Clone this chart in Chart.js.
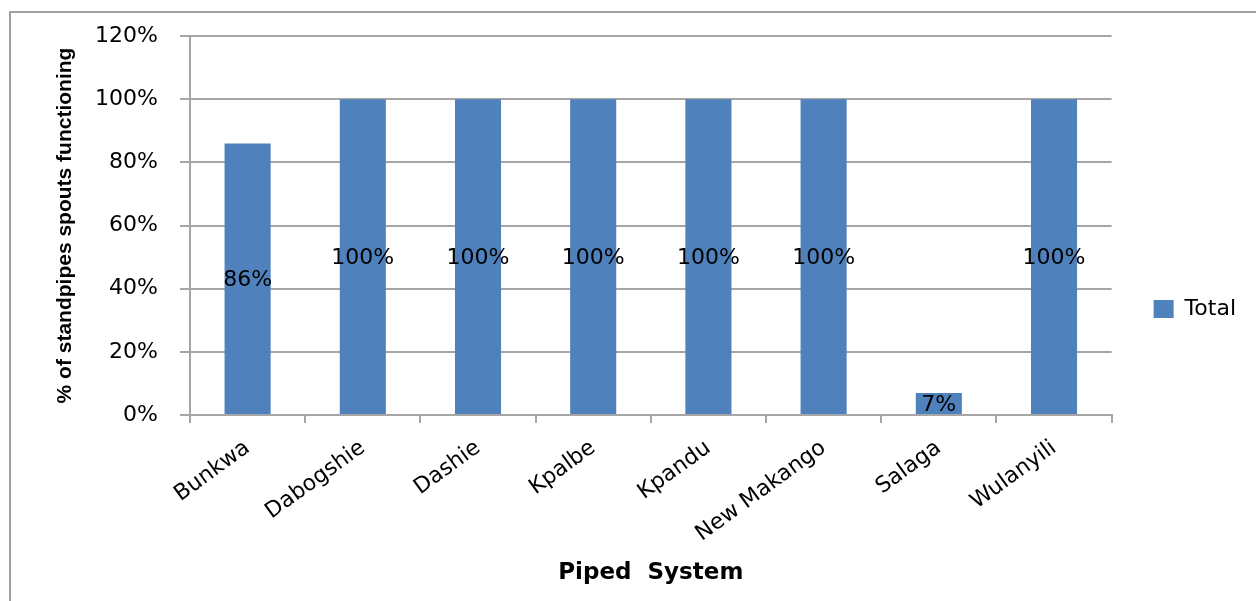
<!DOCTYPE html>
<html>
<head>
<meta charset="utf-8">
<title>Standpipe spouts functioning by piped system</title>
<script src="https://cdn.jsdelivr.net/npm/chart.js@4/dist/chart.umd.min.js"></script>
<style>
  html, body { margin: 0; padding: 0; background: #ffffff; }
  canvas { display: block; }
</style>
</head>
<body>
<canvas id="chart" width="1256" height="601"></canvas>
<script>
// Piped systems and the share of their standpipe spouts that work (%)
const systems = ['Bunkwa', 'Dabogshie', 'Dashie', 'Kpalbe', 'Kpandu', 'New Makango', 'Salaga', 'Wulanyili'];
const functioningPct = [86, 100, 100, 100, 100, 100, 7, 100];
const seriesName = 'Total';
const yTicks = [0, 20, 40, 60, 80, 100, 120];

const barBlue = '#4F81BD';
const lineGrey = '#a6a6a6';
const textFont = "'DejaVu Sans', sans-serif";

// Frame line along the left and top edges of the picture
const framePlugin = {
  id: 'frame',
  beforeDraw(chart) {
    const ctx = chart.ctx;
    ctx.save();
    ctx.fillStyle = '#ffffff';
    ctx.fillRect(0, 0, chart.width, chart.height);
    ctx.strokeStyle = '#a0a0a0';
    ctx.lineWidth = 2;
    ctx.beginPath();
    ctx.moveTo(10, chart.height);
    ctx.lineTo(10, 12);
    ctx.lineTo(chart.width, 12);
    ctx.stroke();
    ctx.restore();
  }
};

// Value label in the middle of each bar
const barLabelPlugin = {
  id: 'barLabels',
  afterDatasetsDraw(chart) {
    const ctx = chart.ctx;
    ctx.save();
    ctx.font = '22px ' + textFont;
    ctx.fillStyle = '#000000';
    ctx.textAlign = 'center';
    ctx.textBaseline = 'middle';
    chart.data.datasets.forEach((ds, di) => {
      chart.getDatasetMeta(di).data.forEach((bar, i) => {
        const mid = (bar.y + bar.base) / 2;
        ctx.fillText(ds.data[i] + '%', bar.x, mid + 2);
      });
    });
    ctx.restore();
  }
};

new Chart(document.getElementById('chart'), {
  type: 'bar',
  data: {
    labels: systems,
    datasets: [{
      label: seriesName,
      data: functioningPct,
      backgroundColor: barBlue,
      borderWidth: 0,
      barPercentage: 0.4,
      categoryPercentage: 1.0
    }]
  },
  options: {
    responsive: false,
    animation: false,
    devicePixelRatio: 1,
    layout: { padding: { left: 0, top: 36, right: 10, bottom: 19 } },
    plugins: {
      legend: {
        position: 'right',
        labels: {
          boxWidth: 20,
          boxHeight: 18,
          padding: 42,
          color: '#000000',
          font: { family: textFont, size: 22 }
        }
      },
      tooltip: { enabled: false }
    },
    scales: {
      x: {
        grid: {
          offset: true,
          drawOnChartArea: false,
          drawTicks: true,
          tickLength: 8,
          color: lineGrey,
          lineWidth: 2
        },
        border: { color: lineGrey, width: 2 },
        ticks: {
          autoSkip: false,
          minRotation: 36,
          maxRotation: 36,
          padding: 12,
          color: '#000000',
          font: { family: textFont, size: 22 }
        },
        title: {
          display: true,
          text: 'Piped  System',
          color: '#000000',
          font: { family: textFont, size: 23, weight: 'bold', lineHeight: 1 },
          padding: { top: 0, bottom: -3 }
        },
        afterFit(scale) { scale.height = 167; }
      },
      y: {
        min: yTicks[0],
        max: yTicks[yTicks.length - 1],
        afterBuildTicks(scale) { scale.ticks = yTicks.map(v => ({ value: v })); },
        grid: { color: lineGrey, lineWidth: 2, tickLength: 10 },
        border: { color: lineGrey, width: 2 },
        ticks: {
          padding: 22,
          color: '#000000',
          font: { family: textFont, size: 22 },
          callback: v => v + '%'
        },
        title: {
          display: true,
          text: '% of standpipes spouts functioning',
          color: '#000000',
          font: { family: "'Liberation Sans', Arial, sans-serif", size: 21, weight: 'bold', lineHeight: 1 },
          padding: { top: 55, bottom: 0 }
        },
        afterFit(scale) { scale.width = 190; }
      }
    }
  },
  plugins: [framePlugin, barLabelPlugin]
});
</script>
</body>
</html>
